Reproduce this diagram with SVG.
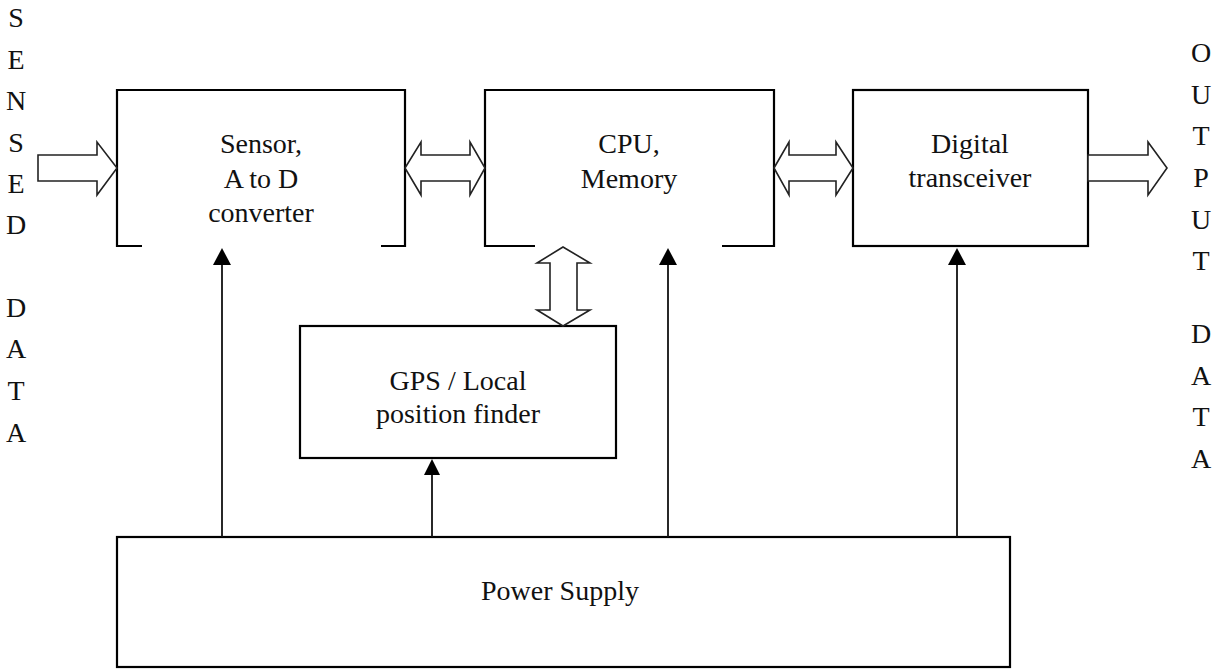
<svg xmlns="http://www.w3.org/2000/svg" width="1217" height="669" viewBox="0 0 1217 669">
<style>
.box{fill:none;stroke:#000;stroke-width:2.2}
.fat{fill:#fff;stroke:#222;stroke-width:1.6;stroke-linejoin:miter}
.wire{stroke:#111;stroke-width:1.8;fill:none}
.head{fill:#000}
text{font-family:"Liberation Serif","Times New Roman",serif;font-size:28px;fill:#111;text-anchor:middle}
</style>
<rect width="1217" height="669" fill="#fff"/>
<g id="label-sensed-data">
<text x="16" y="27">S</text>
<text x="16" y="68.5">E</text>
<text x="16" y="110">N</text>
<text x="16" y="151.5">S</text>
<text x="16" y="193">E</text>
<text x="16" y="234">D</text>
<text x="16" y="317">D</text>
<text x="16" y="358">A</text>
<text x="16" y="400">T</text>
<text x="16" y="441.5">A</text>
</g>
<g id="label-output-data">
<text x="1201" y="62">O</text>
<text x="1201" y="103.5">U</text>
<text x="1201" y="145">T</text>
<text x="1201" y="187">P</text>
<text x="1201" y="228.5">U</text>
<text x="1201" y="270">T</text>
<text x="1201" y="343">D</text>
<text x="1201" y="384.5">A</text>
<text x="1201" y="426">T</text>
<text x="1201" y="467.5">A</text>
</g>
<g id="node-sensor">
<path class="box" d="M142,246 H117 V90 H405 V246 H381"/>
<text x="261" y="153">Sensor,</text>
<text x="261" y="188">A to D</text>
<text x="261" y="222">converter</text>
</g>
<g id="node-cpu">
<path class="box" d="M535,246 H485 V90 H774 V246 H722"/>
<text x="629" y="153">CPU,</text>
<text x="629" y="188">Memory</text>
</g>
<g id="node-transceiver">
<rect class="box" x="853" y="90" width="235" height="156"/>
<text x="970" y="153">Digital</text>
<text x="970" y="187">transceiver</text>
</g>
<g id="node-gps">
<rect class="box" x="300" y="326" width="316" height="132"/>
<text x="458" y="390">GPS / Local</text>
<text x="458" y="423">position finder</text>
</g>
<g id="node-power">
<rect class="box" x="117" y="537" width="893" height="130"/>
<text x="560" y="600">Power Supply</text>
</g>
<g id="connectors">
<polygon class="fat" points="38,155 97,155 97,142 117,168 97,195 97,181 38,181"/>
<polygon class="fat" points="405,168 421,142 421,155 470,155 470,142 485,168 470,195 470,181 421,181 421,195"/>
<polygon class="fat" points="774,168 789,142 789,155 836,155 836,142 853,168 836,195 836,181 789,181 789,195"/>
<polygon class="fat" points="1088,155 1148,155 1148,142 1167,168 1148,195 1148,181 1088,181"/>
<polygon class="fat" points="563,247 590,263 577,263 577,310 590,310 563,326 537,310 550,310 550,263 537,263"/>
<line class="wire" x1="222" y1="537" x2="222" y2="264"/>
<polygon class="head" points="222,248 213,265 231,265"/>
<line class="wire" x1="668" y1="537" x2="668" y2="264"/>
<polygon class="head" points="668,248 659,265 677,265"/>
<line class="wire" x1="957" y1="537" x2="957" y2="264"/>
<polygon class="head" points="957,248 948,265 966,265"/>
<line class="wire" x1="432" y1="537" x2="432" y2="474"/>
<polygon class="head" points="432,459 424,475 440,475"/>
</g>
</svg>
